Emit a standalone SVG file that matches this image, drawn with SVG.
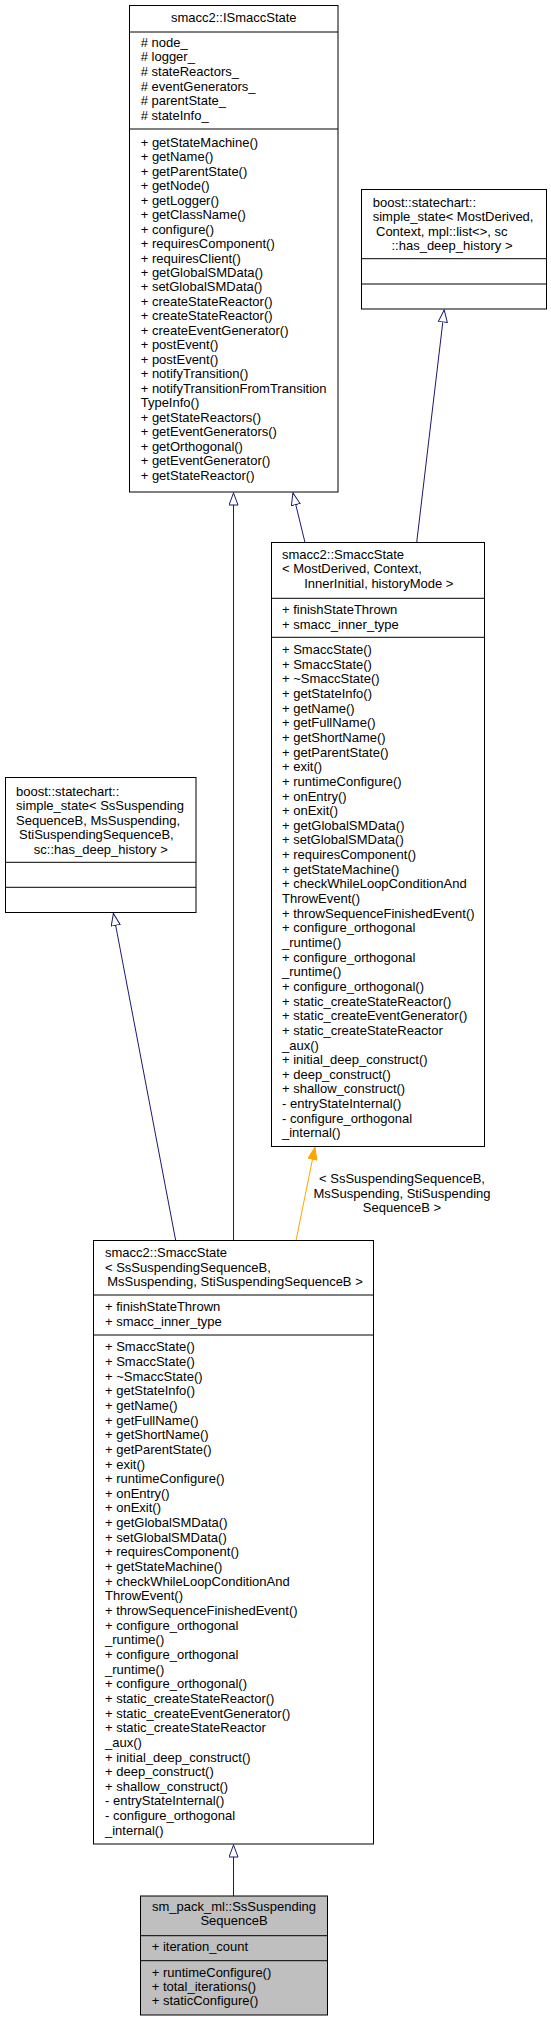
<svg xmlns="http://www.w3.org/2000/svg" width="551" height="2021" viewBox="0 0 551 2021">
<style>
text{font-family:"Liberation Sans",Arial,sans-serif;font-size:13px;fill:#000}
.box{fill:#fff;stroke:#000;stroke-width:1}
.cur{fill:#bfbfbf;stroke:#000;stroke-width:1}
.sep{stroke:#000;stroke-width:1}
.mid{text-anchor:middle}
.inh{stroke:#191970;stroke-width:1;fill:none}
.tpl{stroke:#ffa500;stroke-width:1;fill:none}
</style>
<defs>
<marker id="open" viewBox="0 0 13 10" refX="13" refY="5" markerWidth="13" markerHeight="10" markerUnits="userSpaceOnUse" orient="auto">
<path d="M0.5,0.5 L12.5,5 L0.5,9.5 Z" fill="#fff" stroke="#191970" stroke-width="1"/>
</marker>
<marker id="filled" viewBox="0 0 13 10" refX="13" refY="5" markerWidth="13" markerHeight="10" markerUnits="userSpaceOnUse" orient="auto">
<path d="M0.5,0.5 L12.5,5 L0.5,9.5 Z" fill="#ffa500" stroke="#ffa500" stroke-width="1"/>
</marker>
</defs>

<g id="connectors">
<path class="inh" d="M233.5,1240.5 L233.5,492.5" marker-end="url(#open)"/>
<path class="inh" d="M305,542.5 L292.8,492.5" marker-end="url(#open)"/>
<path class="inh" d="M416.7,542.5 L444.3,309.5" marker-end="url(#open)"/>
<path class="inh" d="M175.7,1240.5 L113.3,913" marker-end="url(#open)"/>
<path class="inh" d="M233.5,1896 L233.5,1844.5" marker-end="url(#open)"/>
<path class="tpl" d="M296,1240.5 L315,1147" marker-end="url(#filled)"/>
<text class="mid" x="402" y="1183">&lt; SsSuspendingSequenceB,</text>
<text class="mid" x="402" y="1197.5">MsSuspending, StiSuspending</text>
<text class="mid" x="402" y="1212">SequenceB &gt;</text>
</g>

<g id="ISmaccState">
<rect class="box" x="129.5" y="5.5" width="208.5" height="486.5"/>
<line class="sep" x1="129.5" y1="32" x2="338" y2="32"/>
<line class="sep" x1="129.5" y1="129" x2="338" y2="129"/>
<text class="mid" x="233.75" y="22">smacc2::ISmaccState</text>
<text x="140.7" y="46.5"><tspan x="140.7">#&#160;node_</tspan><tspan x="140.7" dy="14.7">#&#160;logger_</tspan><tspan x="140.7" dy="14.7">#&#160;stateReactors_</tspan><tspan x="140.7" dy="14.7">#&#160;eventGenerators_</tspan><tspan x="140.7" dy="14.7">#&#160;parentState_</tspan><tspan x="140.7" dy="14.7">#&#160;stateInfo_</tspan></text>
<text x="140.7" y="146.7"><tspan x="140.7">+ getStateMachine()</tspan><tspan x="140.7" dy="14.48">+ getName()</tspan><tspan x="140.7" dy="14.48">+ getParentState()</tspan><tspan x="140.7" dy="14.48">+ getNode()</tspan><tspan x="140.7" dy="14.48">+ getLogger()</tspan><tspan x="140.7" dy="14.48">+ getClassName()</tspan><tspan x="140.7" dy="14.48">+ configure()</tspan><tspan x="140.7" dy="14.48">+ requiresComponent()</tspan><tspan x="140.7" dy="14.48">+ requiresClient()</tspan><tspan x="140.7" dy="14.48">+ getGlobalSMData()</tspan><tspan x="140.7" dy="14.48">+ setGlobalSMData()</tspan><tspan x="140.7" dy="14.48">+ createStateReactor()</tspan><tspan x="140.7" dy="14.48">+ createStateReactor()</tspan><tspan x="140.7" dy="14.48">+ createEventGenerator()</tspan><tspan x="140.7" dy="14.48">+ postEvent()</tspan><tspan x="140.7" dy="14.48">+ postEvent()</tspan><tspan x="140.7" dy="14.48">+ notifyTransition()</tspan><tspan x="140.7" dy="14.48">+ notifyTransitionFromTransition</tspan><tspan x="140.7" dy="14.48">TypeInfo()</tspan><tspan x="140.7" dy="14.48">+ getStateReactors()</tspan><tspan x="140.7" dy="14.48">+ getEventGenerators()</tspan><tspan x="140.7" dy="14.48">+ getOrthogonal()</tspan><tspan x="140.7" dy="14.48">+ getEventGenerator()</tspan><tspan x="140.7" dy="14.48">+ getStateReactor()</tspan></text>
</g>

<g id="SimpleStateGeneric">
<rect class="box" x="361.5" y="189.5" width="185" height="119.5"/>
<line class="sep" x1="361.5" y1="258.7" x2="546.5" y2="258.7"/>
<line class="sep" x1="361.5" y1="284" x2="546.5" y2="284"/>
<text x="372.7" y="206.5">boost::statechart::</text>
<text x="372.7" y="221">simple_state&lt; MostDerived,</text>
<text x="376" y="235.5">Context, mpl::list&lt;&gt;, sc</text>
<text class="mid" x="452" y="250">::has_deep_history &gt;</text>
</g>

<g id="SmaccStateGeneric">
<rect class="box" x="271.5" y="542.5" width="213" height="604"/>
<line class="sep" x1="271.5" y1="598.3" x2="484.5" y2="598.3"/>
<line class="sep" x1="271.5" y1="637.3" x2="484.5" y2="637.3"/>
<text x="282" y="558.5">smacc2::SmaccState</text>
<text x="282" y="573">&lt; MostDerived, Context,</text>
<text class="mid" x="378.8" y="587.5">InnerInitial, historyMode &gt;</text>
<text x="282" y="614"><tspan x="282">+ finishStateThrown</tspan><tspan x="282" dy="14.6">+ smacc_inner_type</tspan></text>
<text x="282" y="654"><tspan x="282">+ SmaccState()</tspan><tspan x="282" dy="14.65">+ SmaccState()</tspan><tspan x="282" dy="14.65">+ ~SmaccState()</tspan><tspan x="282" dy="14.65">+ getStateInfo()</tspan><tspan x="282" dy="14.65">+ getName()</tspan><tspan x="282" dy="14.65">+ getFullName()</tspan><tspan x="282" dy="14.65">+ getShortName()</tspan><tspan x="282" dy="14.65">+ getParentState()</tspan><tspan x="282" dy="14.65">+ exit()</tspan><tspan x="282" dy="14.65">+ runtimeConfigure()</tspan><tspan x="282" dy="14.65">+ onEntry()</tspan><tspan x="282" dy="14.65">+ onExit()</tspan><tspan x="282" dy="14.65">+ getGlobalSMData()</tspan><tspan x="282" dy="14.65">+ setGlobalSMData()</tspan><tspan x="282" dy="14.65">+ requiresComponent()</tspan><tspan x="282" dy="14.65">+ getStateMachine()</tspan><tspan x="282" dy="14.65">+ checkWhileLoopConditionAnd</tspan><tspan x="282" dy="14.65">ThrowEvent()</tspan><tspan x="282" dy="14.65">+ throwSequenceFinishedEvent()</tspan><tspan x="282" dy="14.65">+ configure_orthogonal</tspan><tspan x="282" dy="14.65">_runtime()</tspan><tspan x="282" dy="14.65">+ configure_orthogonal</tspan><tspan x="282" dy="14.65">_runtime()</tspan><tspan x="282" dy="14.65">+ configure_orthogonal()</tspan><tspan x="282" dy="14.65">+ static_createStateReactor()</tspan><tspan x="282" dy="14.65">+ static_createEventGenerator()</tspan><tspan x="282" dy="14.65">+ static_createStateReactor</tspan><tspan x="282" dy="14.65">_aux()</tspan><tspan x="282" dy="14.65">+ initial_deep_construct()</tspan><tspan x="282" dy="14.65">+ deep_construct()</tspan><tspan x="282" dy="14.65">+ shallow_construct()</tspan><tspan x="282" dy="14.65">- entryStateInternal()</tspan><tspan x="282" dy="14.65">- configure_orthogonal</tspan><tspan x="282" dy="14.65">_internal()</tspan></text>
</g>

<g id="SimpleStateSpecific">
<rect class="box" x="5.5" y="777.5" width="190.5" height="135"/>
<line class="sep" x1="5.5" y1="862.3" x2="196" y2="862.3"/>
<line class="sep" x1="5.5" y1="887.3" x2="196" y2="887.3"/>
<text x="16" y="795.7">boost::statechart::</text>
<text x="16" y="810.2">simple_state&lt; SsSuspending</text>
<text x="16" y="824.7">SequenceB, MsSuspending,</text>
<text x="19" y="839.2">StiSuspendingSequenceB,</text>
<text class="mid" x="100.8" y="853.7">sc::has_deep_history &gt;</text>
</g>

<g id="SmaccStateSpecific">
<rect class="box" x="93.5" y="1240.5" width="280" height="603.5"/>
<line class="sep" x1="93.5" y1="1295" x2="373.5" y2="1295"/>
<line class="sep" x1="93.5" y1="1335" x2="373.5" y2="1335"/>
<text x="105" y="1256.7">smacc2::SmaccState</text>
<text x="105" y="1271.5">&lt; SsSuspendingSequenceB,</text>
<text class="mid" x="235" y="1286">MsSuspending, StiSuspendingSequenceB &gt;</text>
<text x="105" y="1311.3"><tspan x="105">+ finishStateThrown</tspan><tspan x="105" dy="14.5">+ smacc_inner_type</tspan></text>
<text x="105" y="1351.3"><tspan x="105">+ SmaccState()</tspan><tspan x="105" dy="14.65">+ SmaccState()</tspan><tspan x="105" dy="14.65">+ ~SmaccState()</tspan><tspan x="105" dy="14.65">+ getStateInfo()</tspan><tspan x="105" dy="14.65">+ getName()</tspan><tspan x="105" dy="14.65">+ getFullName()</tspan><tspan x="105" dy="14.65">+ getShortName()</tspan><tspan x="105" dy="14.65">+ getParentState()</tspan><tspan x="105" dy="14.65">+ exit()</tspan><tspan x="105" dy="14.65">+ runtimeConfigure()</tspan><tspan x="105" dy="14.65">+ onEntry()</tspan><tspan x="105" dy="14.65">+ onExit()</tspan><tspan x="105" dy="14.65">+ getGlobalSMData()</tspan><tspan x="105" dy="14.65">+ setGlobalSMData()</tspan><tspan x="105" dy="14.65">+ requiresComponent()</tspan><tspan x="105" dy="14.65">+ getStateMachine()</tspan><tspan x="105" dy="14.65">+ checkWhileLoopConditionAnd</tspan><tspan x="105" dy="14.65">ThrowEvent()</tspan><tspan x="105" dy="14.65">+ throwSequenceFinishedEvent()</tspan><tspan x="105" dy="14.65">+ configure_orthogonal</tspan><tspan x="105" dy="14.65">_runtime()</tspan><tspan x="105" dy="14.65">+ configure_orthogonal</tspan><tspan x="105" dy="14.65">_runtime()</tspan><tspan x="105" dy="14.65">+ configure_orthogonal()</tspan><tspan x="105" dy="14.65">+ static_createStateReactor()</tspan><tspan x="105" dy="14.65">+ static_createEventGenerator()</tspan><tspan x="105" dy="14.65">+ static_createStateReactor</tspan><tspan x="105" dy="14.65">_aux()</tspan><tspan x="105" dy="14.65">+ initial_deep_construct()</tspan><tspan x="105" dy="14.65">+ deep_construct()</tspan><tspan x="105" dy="14.65">+ shallow_construct()</tspan><tspan x="105" dy="14.65">- entryStateInternal()</tspan><tspan x="105" dy="14.65">- configure_orthogonal</tspan><tspan x="105" dy="14.65">_internal()</tspan></text>
</g>

<g id="SsSuspendingSequenceB">
<rect class="cur" x="140.5" y="1896" width="187" height="119"/>
<line class="sep" x1="140.5" y1="1935.7" x2="327.5" y2="1935.7"/>
<line class="sep" x1="140.5" y1="1960.7" x2="327.5" y2="1960.7"/>
<text class="mid" x="234" y="1911.3">sm_pack_ml::SsSuspending</text>
<text class="mid" x="234" y="1925.3">SequenceB</text>
<text x="151.7" y="1950.7">+ iteration_count</text>
<text x="151.7" y="1976.7"><tspan x="151.7">+ runtimeConfigure()</tspan><tspan x="151.7" dy="14.3">+ total_iterations()</tspan><tspan x="151.7" dy="14.3">+ staticConfigure()</tspan></text>
</g>
</svg>
